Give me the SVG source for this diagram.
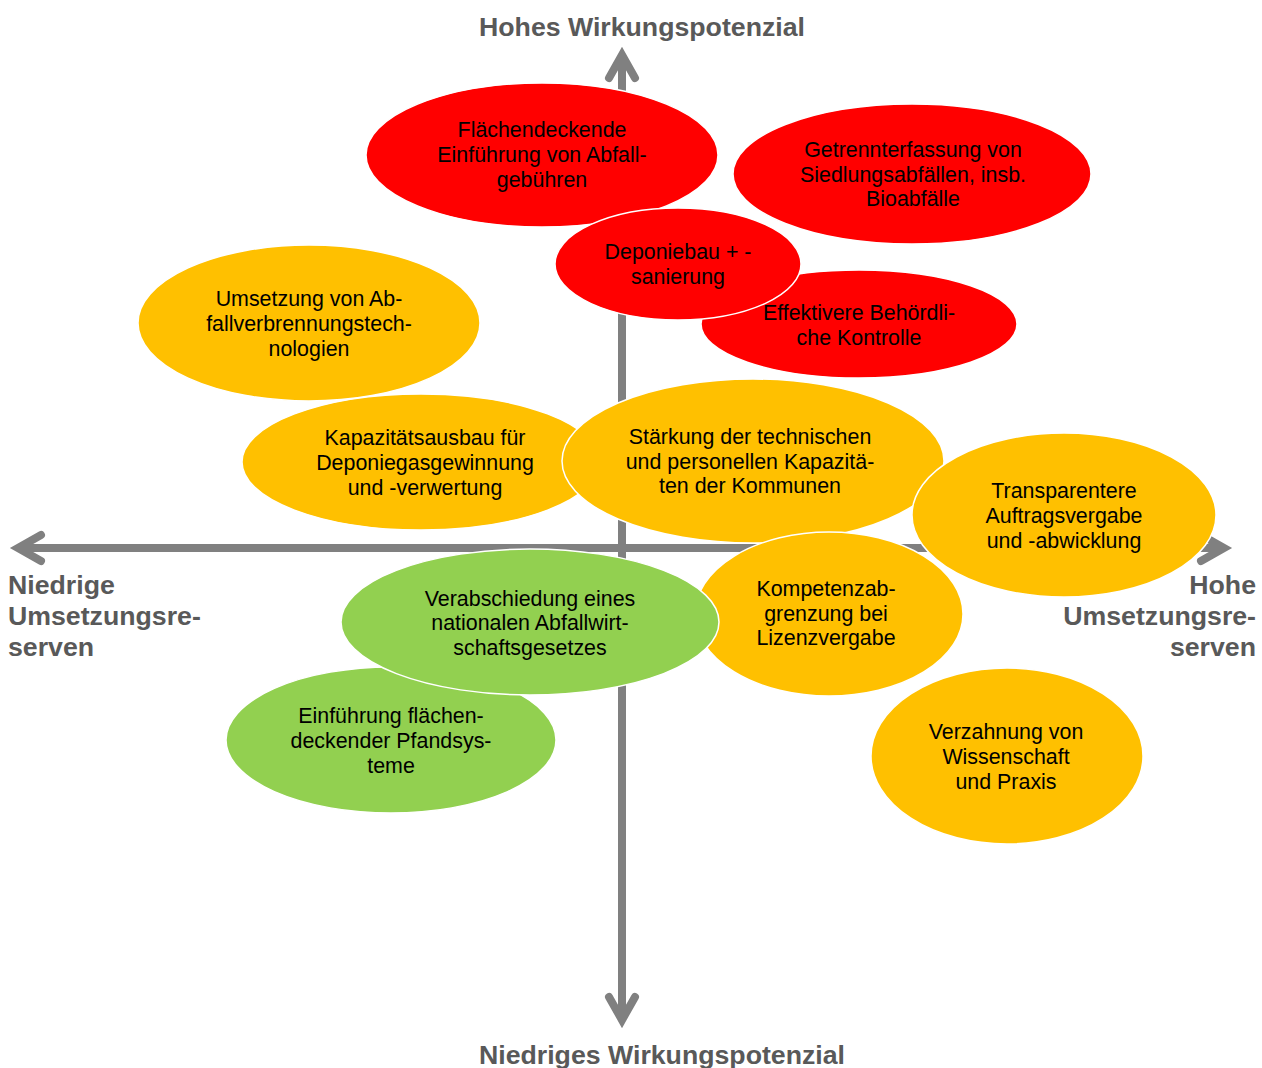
<svg xmlns="http://www.w3.org/2000/svg" width="1262" height="1068" viewBox="0 0 1262 1068">
<style>
.red{fill:#FF0000;stroke:#FFFFFF;stroke-width:1.5}
.org{fill:#FFC000;stroke:#FFFFFF;stroke-width:1.5}
.grn{fill:#92D050;stroke:#FFFFFF;stroke-width:1.5}
.t{font-family:"Liberation Sans",Arial,sans-serif;font-size:21.4px;fill:#000000;text-anchor:middle}
.ax{font-family:"Liberation Sans",Arial,sans-serif;font-size:26.7px;font-weight:bold;fill:#595959}
.axis{stroke:#808080;stroke-width:8;fill:none}
</style>
<defs>
<marker id="chev" markerUnits="userSpaceOnUse" viewBox="-40 -24 52 48" refX="0" refY="0" markerWidth="52" markerHeight="48" orient="auto-start-reverse">
<path d="M-23,-13 L0,0 L-23,13" fill="none" stroke="#808080" stroke-width="8" stroke-linecap="round" stroke-linejoin="miter"/>
</marker>
</defs>
<rect width="1262" height="1068" fill="#FFFFFF"/>
<g id="connectors">
<line class="axis" x1="622" y1="55" x2="622" y2="1020" marker-start="url(#chev)" marker-end="url(#chev)"/>
<line class="axis" x1="18" y1="548" x2="1224" y2="548" marker-start="url(#chev)" marker-end="url(#chev)"/>
</g>
<g id="axis-labels">
<text class="ax" x="642" y="36" text-anchor="middle">Hohes Wirkungspotenzial</text>
<text class="ax" x="662" y="1064" text-anchor="middle">Niedriges Wirkungspotenzial</text>
<text class="ax" x="8" text-anchor="start"><tspan x="8" y="594">Niedrige</tspan><tspan x="8" y="625">Umsetzungsre-</tspan><tspan x="8" y="656">serven</tspan></text>
<text class="ax" x="1256" text-anchor="end"><tspan x="1256" y="594">Hohe</tspan><tspan x="1256" y="625">Umsetzungsre-</tspan><tspan x="1256" y="656">serven</tspan></text>
</g>
<g id="n-flaechendeckende">
<ellipse class="red" cx="542" cy="155" rx="176" ry="72"/>
<text class="t"><tspan x="542" y="137">Flächendeckende</tspan><tspan x="542" y="162">Einführung von Abfall-</tspan><tspan x="542" y="187">gebühren</tspan></text>
</g>
<g id="n-getrennterfassung">
<ellipse class="red" cx="912" cy="174" rx="179" ry="70"/>
<text class="t"><tspan x="913" y="157">Getrennterfassung von</tspan><tspan x="913" y="182">Siedlungsabfällen, insb.</tspan><tspan x="913" y="206">Bioabfälle</tspan></text>
</g>
<g id="n-effektivere">
<ellipse class="red" cx="859" cy="324" rx="158" ry="54"/>
<text class="t"><tspan x="859" y="320">Effektivere Behördli-</tspan><tspan x="859" y="345">che Kontrolle</tspan></text>
</g>
<g id="n-deponiebau">
<ellipse class="red" cx="678" cy="264" rx="123" ry="56"/>
<text class="t"><tspan x="678" y="259">Deponiebau + -</tspan><tspan x="678" y="284">sanierung</tspan></text>
</g>
<g id="n-umsetzung">
<ellipse class="org" cx="309" cy="323" rx="171" ry="78"/>
<text class="t"><tspan x="309" y="306">Umsetzung von Ab-</tspan><tspan x="309" y="331">fallverbrennungstech-</tspan><tspan x="309" y="356">nologien</tspan></text>
</g>
<g id="n-kapazitaetsausbau">
<ellipse class="org" cx="421" cy="462" rx="179" ry="68"/>
<text class="t"><tspan x="425" y="445">Kapazitätsausbau für</tspan><tspan x="425" y="470">Deponiegasgewinnung</tspan><tspan x="425" y="495">und -verwertung</tspan></text>
</g>
<g id="n-staerkung">
<ellipse class="org" cx="753" cy="461" rx="191" ry="82"/>
<text class="t"><tspan x="750" y="444">Stärkung der technischen</tspan><tspan x="750" y="469">und personellen Kapazitä-</tspan><tspan x="750" y="493">ten der Kommunen</tspan></text>
</g>
<g id="n-transparentere">
<ellipse class="org" cx="1064" cy="515" rx="152" ry="82"/>
<text class="t"><tspan x="1064" y="498">Transparentere</tspan><tspan x="1064" y="523">Auftragsvergabe</tspan><tspan x="1064" y="548">und -abwicklung</tspan></text>
</g>
<g id="n-kompetenz">
<ellipse class="org" cx="829" cy="614" rx="134" ry="82"/>
<text class="t"><tspan x="826" y="596">Kompetenzab-</tspan><tspan x="826" y="621">grenzung bei</tspan><tspan x="826" y="645">Lizenzvergabe</tspan></text>
</g>
<g id="n-einfuehrung">
<ellipse class="grn" cx="391" cy="740" rx="165" ry="73"/>
<text class="t"><tspan x="391" y="723">Einführung flächen-</tspan><tspan x="391" y="748">deckender Pfandsys-</tspan><tspan x="391" y="773">teme</tspan></text>
</g>
<g id="n-verabschiedung">
<ellipse class="grn" cx="530" cy="622" rx="189" ry="73"/>
<text class="t"><tspan x="530" y="606">Verabschiedung eines</tspan><tspan x="530" y="630">nationalen Abfallwirt-</tspan><tspan x="530" y="655">schaftsgesetzes</tspan></text>
</g>
<g id="n-verzahnung">
<ellipse class="org" cx="1007" cy="756" rx="136" ry="88"/>
<text class="t"><tspan x="1006" y="739">Verzahnung von</tspan><tspan x="1006" y="764">Wissenschaft</tspan><tspan x="1006" y="789">und Praxis</tspan></text>
</g>
</svg>
